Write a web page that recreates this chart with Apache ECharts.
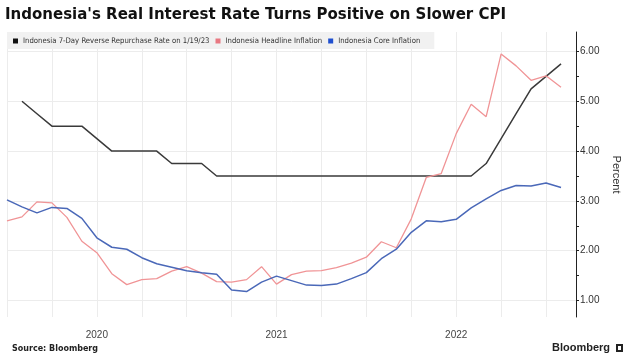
<!DOCTYPE html>
<html>
<head>
<meta charset="utf-8">
<script src="https://cdn.jsdelivr.net/npm/echarts@6/dist/echarts.min.js"></script>
<style>
  html, body { margin: 0; padding: 0; background: #fff; }
  #chart { width: 630px; height: 356px; }
</style>
</head>
<body>
<div id="chart"></div>
<script>
// monthly points, month end
const months = [
  '2019-12',
  '2020-01', '2020-02', '2020-03', '2020-04', '2020-05', '2020-06',
  '2020-07', '2020-08', '2020-09', '2020-10', '2020-11', '2020-12',
  '2021-01', '2021-02', '2021-03', '2021-04', '2021-05', '2021-06',
  '2021-07', '2021-08', '2021-09', '2021-10', '2021-11', '2021-12',
  '2022-01', '2022-02', '2022-03', '2022-04', '2022-05', '2022-06',
  '2022-07', '2022-08', '2022-09', '2022-10', '2022-11', '2022-12',
  '2023-01', '2023-02'
]
const policyRate = [
  null,
  5.00, 4.75, 4.50, 4.50, 4.50, 4.25, 4.00, 4.00, 4.00, 4.00, 3.75, 3.75,
  3.75, 3.50, 3.50, 3.50, 3.50, 3.50, 3.50, 3.50, 3.50, 3.50, 3.50, 3.50,
  3.50, 3.50, 3.50, 3.50, 3.50, 3.50, 3.50, 3.75, 4.25, 4.75, 5.25, 5.50,
  5.75, null
]
const headline = [
  2.60,
  2.68, 2.98, 2.96, 2.67, 2.19, 1.96, 1.54, 1.32, 1.42, 1.44, 1.59, 1.68,
  1.55, 1.38, 1.37, 1.42, 1.68, 1.33, 1.52, 1.59, 1.60, 1.66, 1.75, 1.87,
  2.18, 2.06, 2.64, 3.47, 3.55, 4.35, 4.94, 4.69, 5.95, 5.71, 5.42, 5.51,
  5.28, null
]
const core = [
  3.02,
  2.88, 2.76, 2.87, 2.85, 2.65, 2.26, 2.07, 2.03, 1.86, 1.74, 1.67, 1.60,
  1.56, 1.53, 1.21, 1.18, 1.37, 1.49, 1.40, 1.31, 1.30, 1.33, 1.44, 1.56,
  1.84, 2.03, 2.37, 2.60, 2.58, 2.63, 2.86, 3.04, 3.21, 3.31, 3.30, 3.36,
  3.27, null
]
const yTicks = [1, 1.5, 2, 2.5, 3, 3.5, 4, 4.5, 5, 5.5, 6]
const yLabels = [1, 2, 3, 4, 5, 6]
const yearLabels = { '2020-06': '2020', '2021-06': '2021', '2022-06': '2022' }

const names = [
  'Indonesia 7-Day Reverse Repurchase Rate on 1/19/23',
  'Indonesia Headline Inflation',
  'Indonesia Core Inflation'
]

let myChart = echarts.init(document.getElementById('chart'))
myChart.setOption({
  animation: false,
  title: {
    text: "Indonesia's Real Interest Rate Turns Positive on Slower CPI",
    left: 5,
    top: 8,
    padding: 0,
    textStyle: {
      fontFamily: 'DejaVu Sans',
      fontSize: 15,
      fontWeight: 'bold',
      color: '#111'
    }
  },
  legend: {
    left: 7,
    top: 32,
    padding: [5, 14, 4, 6],
    backgroundColor: '#f1f1f1',
    itemWidth: 5,
    itemHeight: 5,
    itemGap: 6,
    icon: 'rect',
    textStyle: {
      fontFamily: 'DejaVu Sans Condensed, Liberation Sans',
      fontSize: 7.7,
      color: '#333'
    },
    data: [
      { name: names[0], itemStyle: { color: '#111' } },
      { name: names[1], itemStyle: { color: '#e87882' } },
      { name: names[2], itemStyle: { color: '#1f4fcf' } }
    ]
  },
  grid: {
    left: 7,
    right: 43,
    top: 32,
    bottom: 39
  },
  xAxis: {
    type: 'category',
    boundaryGap: false,
    data: months,
    axisLine: { show: false },
    axisTick: { show: false },
    axisLabel: {
      interval: function (i, v) { return !!yearLabels[v] },
      formatter: function (v) { return yearLabels[v] || '' },
      margin: 13,
      fontFamily: 'Liberation Sans',
      fontSize: 10,
      color: '#444'
    },
    splitLine: {
      show: true,
      interval: 2,
      lineStyle: { color: '#ececec', width: 1 }
    }
  },
  yAxis: {
    type: 'value',
    position: 'right',
    min: 0.67,
    max: 6.39,
    name: 'Percent',
    nameLocation: 'middle',
    nameRotate: -90,
    nameGap: 35,
    nameTextStyle: {
      fontFamily: 'Liberation Sans',
      fontSize: 11,
      color: '#333'
    },
    axisLine: { show: true, lineStyle: { color: '#222', width: 1 } },
    axisTick: {
      show: true,
      customValues: yTicks,
      length: 3,
      lineStyle: { color: '#222' }
    },
    axisLabel: {
      customValues: yLabels,
      formatter: function (v) { return v.toFixed(2) },
      margin: 4,
      fontFamily: 'Liberation Sans',
      fontSize: 10,
      color: '#333'
    },
    splitLine: {
      show: true,
      lineStyle: { color: ['#ececec', 'transparent'], width: 1 }
    }
  },
  series: [
    {
      name: names[0],
      type: 'line',
      data: policyRate,
      showSymbol: false,
      lineStyle: { color: '#3a3a3a', width: 1.5 },
      itemStyle: { color: '#3a3a3a' }
    },
    {
      name: names[1],
      type: 'line',
      data: headline,
      showSymbol: false,
      lineStyle: { color: '#f09496', width: 1.3 },
      itemStyle: { color: '#f09496' }
    },
    {
      name: names[2],
      type: 'line',
      data: core,
      showSymbol: false,
      lineStyle: { color: '#4a68b8', width: 1.5 },
      itemStyle: { color: '#4a68b8' }
    }
  ],
  graphic: [
    {
      type: 'text',
      left: 12,
      top: 345,
      style: {
        text: 'Source: Bloomberg',
        fontFamily: 'DejaVu Sans',
        fontWeight: 'bold',
        fontSize: 8,
        fill: '#222'
      }
    },
    {
      type: 'text',
      left: 552,
      top: 342,
      style: {
        text: 'Bloomberg',
        fontFamily: 'Liberation Sans',
        fontWeight: 'bold',
        fontSize: 11,
        fill: '#222'
      }
    },
    {
      type: 'rect',
      shape: { x: 616, y: 344, width: 7, height: 8 },
      style: { fill: '#222' }
    },
    {
      type: 'rect',
      shape: { x: 618, y: 346, width: 3, height: 4 },
      style: { fill: '#fff' }
    }
  ]
})
</script>
</body>
</html>
